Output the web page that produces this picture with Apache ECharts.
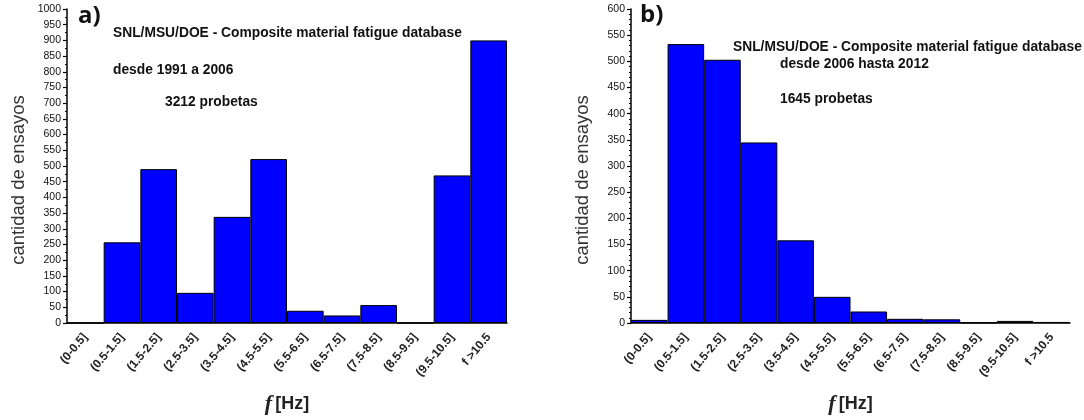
<!DOCTYPE html>
<html>
<head>
<meta charset="utf-8">
<script src="https://cdn.jsdelivr.net/npm/echarts@6/dist/echarts.min.js"></script>
<style>
  html, body { margin: 0; padding: 0; background: #fff; }
  #main { width: 1084px; height: 420px; }
</style>
</head>
<body>
<div id="main"></div>
<script>
// datos de los dos histogramas
var categories = ['(0-0.5]', '(0.5-1.5]', '(1.5-2.5]', '(2.5-3.5]', '(3.5-4.5]', '(4.5-5.5]',
    '(5.5-6.5]', '(6.5-7.5]', '(7.5-8.5]', '(8.5-9.5]', '(9.5-10.5]', 'f >10.5'];
var ensayos1991 = [0, 257, 490, 96, 338, 522, 39, 24, 57, 0, 470, 900];
var ensayos2006 = [6, 533, 503, 345, 158, 50, 22, 8, 7, 1, 4, 2];

var chart = echarts.init(document.getElementById('main'));

function xAxisFor(idx) {
    return {
        type: 'category',
        gridIndex: idx,
        data: categories,
        boundaryGap: true,
        axisLine: { lineStyle: { color: '#000', width: 1.5 } },
        axisTick: { alignWithLabel: true, length: 5, lineStyle: { color: '#000', width: 1.2 } },
        axisLabel: {
            rotate: 50, color: '#222', fontSize: 12, fontWeight: 'bold',
            fontFamily: 'Liberation Sans', margin: 12, interval: 0
        },
        name: '{i|f} {b|[Hz]}',
        nameLocation: 'middle',
        nameGap: 70,
        nameTextStyle: {
            rich: {
                i: { fontFamily: 'Liberation Serif', fontStyle: 'italic', fontWeight: 'bold', fontSize: 22, color: '#222' },
                b: { fontFamily: 'Liberation Sans', fontWeight: 'bold', fontSize: 18, color: '#222' }
            }
        }
    };
}

function yAxisFor(idx, max, minorSplit) {
    return {
        type: 'value',
        gridIndex: idx,
        min: 0,
        max: max,
        interval: 50,
        axisLine: { show: true, lineStyle: { color: '#000', width: 1.5 } },
        axisTick: { show: true, length: 4, lineStyle: { color: '#000', width: 1.2 } },
        minorTick: { show: true, splitNumber: minorSplit, length: 2, lineStyle: { color: '#000' } },
        axisLabel: {
            color: '#111', fontSize: 10.5, fontFamily: 'Liberation Sans', margin: 6,
            formatter: function (v) { return String(v); }
        },
        splitLine: { show: false }
    };
}

function serieFor(idx, data) {
    return {
        type: 'bar',
        xAxisIndex: idx,
        yAxisIndex: idx,
        data: data,
        barCategoryGap: '0%',
        itemStyle: { color: '#0000ff', borderColor: '#000', borderWidth: 1 },
        animation: false
    };
}

var txtBold = { fontFamily: 'Liberation Sans', fontWeight: 'bold', fontSize: 13.8, fill: '#111' };
function txt(x, y, s) {
    return { type: 'text', left: x, top: y, style: Object.assign({ text: s }, txtBold) };
}
function yName(x, y) {
    return {
        type: 'text', x: x, y: y, rotation: Math.PI / 2,
        style: {
            text: 'cantidad de ensayos', fontFamily: 'Liberation Sans', fontSize: 18.5,
            fill: '#333', align: 'center', verticalAlign: 'middle'
        }
    };
}

chart.setOption({
    animation: false,
    grid: [
        { left: 67, top: 9, width: 440, height: 314, outerBoundsMode: 'none' },
        { left: 631, top: 9, width: 439, height: 314, outerBoundsMode: 'none' }
    ],
    xAxis: [xAxisFor(0), xAxisFor(1)],
    yAxis: [yAxisFor(0, 1000, 2), yAxisFor(1, 600, 5)],
    series: [serieFor(0, ensayos1991), serieFor(1, ensayos2006)],
    graphic: [
        yName(19, 180),
        yName(583, 180),
        { type: 'text', left: 78, top: 4, style: { text: 'a)', fontFamily: 'Open Sans', fontWeight: 'bold', fontSize: 24, fill: '#111' } },
        txt(113, 26, 'SNL/MSU/DOE - Composite material fatigue database'),
        txt(113, 63, 'desde 1991 a 2006'),
        txt(165, 95, '3212 probetas'),
        { type: 'text', left: 640, top: 3, style: { text: 'b)', fontFamily: 'Open Sans', fontWeight: 'bold', fontSize: 24, fill: '#111' } },
        txt(733, 40, 'SNL/MSU/DOE - Composite material fatigue database'),
        txt(780, 57, 'desde 2006 hasta 2012'),
        txt(780, 92, '1645 probetas')
    ]
});
</script>
</body>
</html>
